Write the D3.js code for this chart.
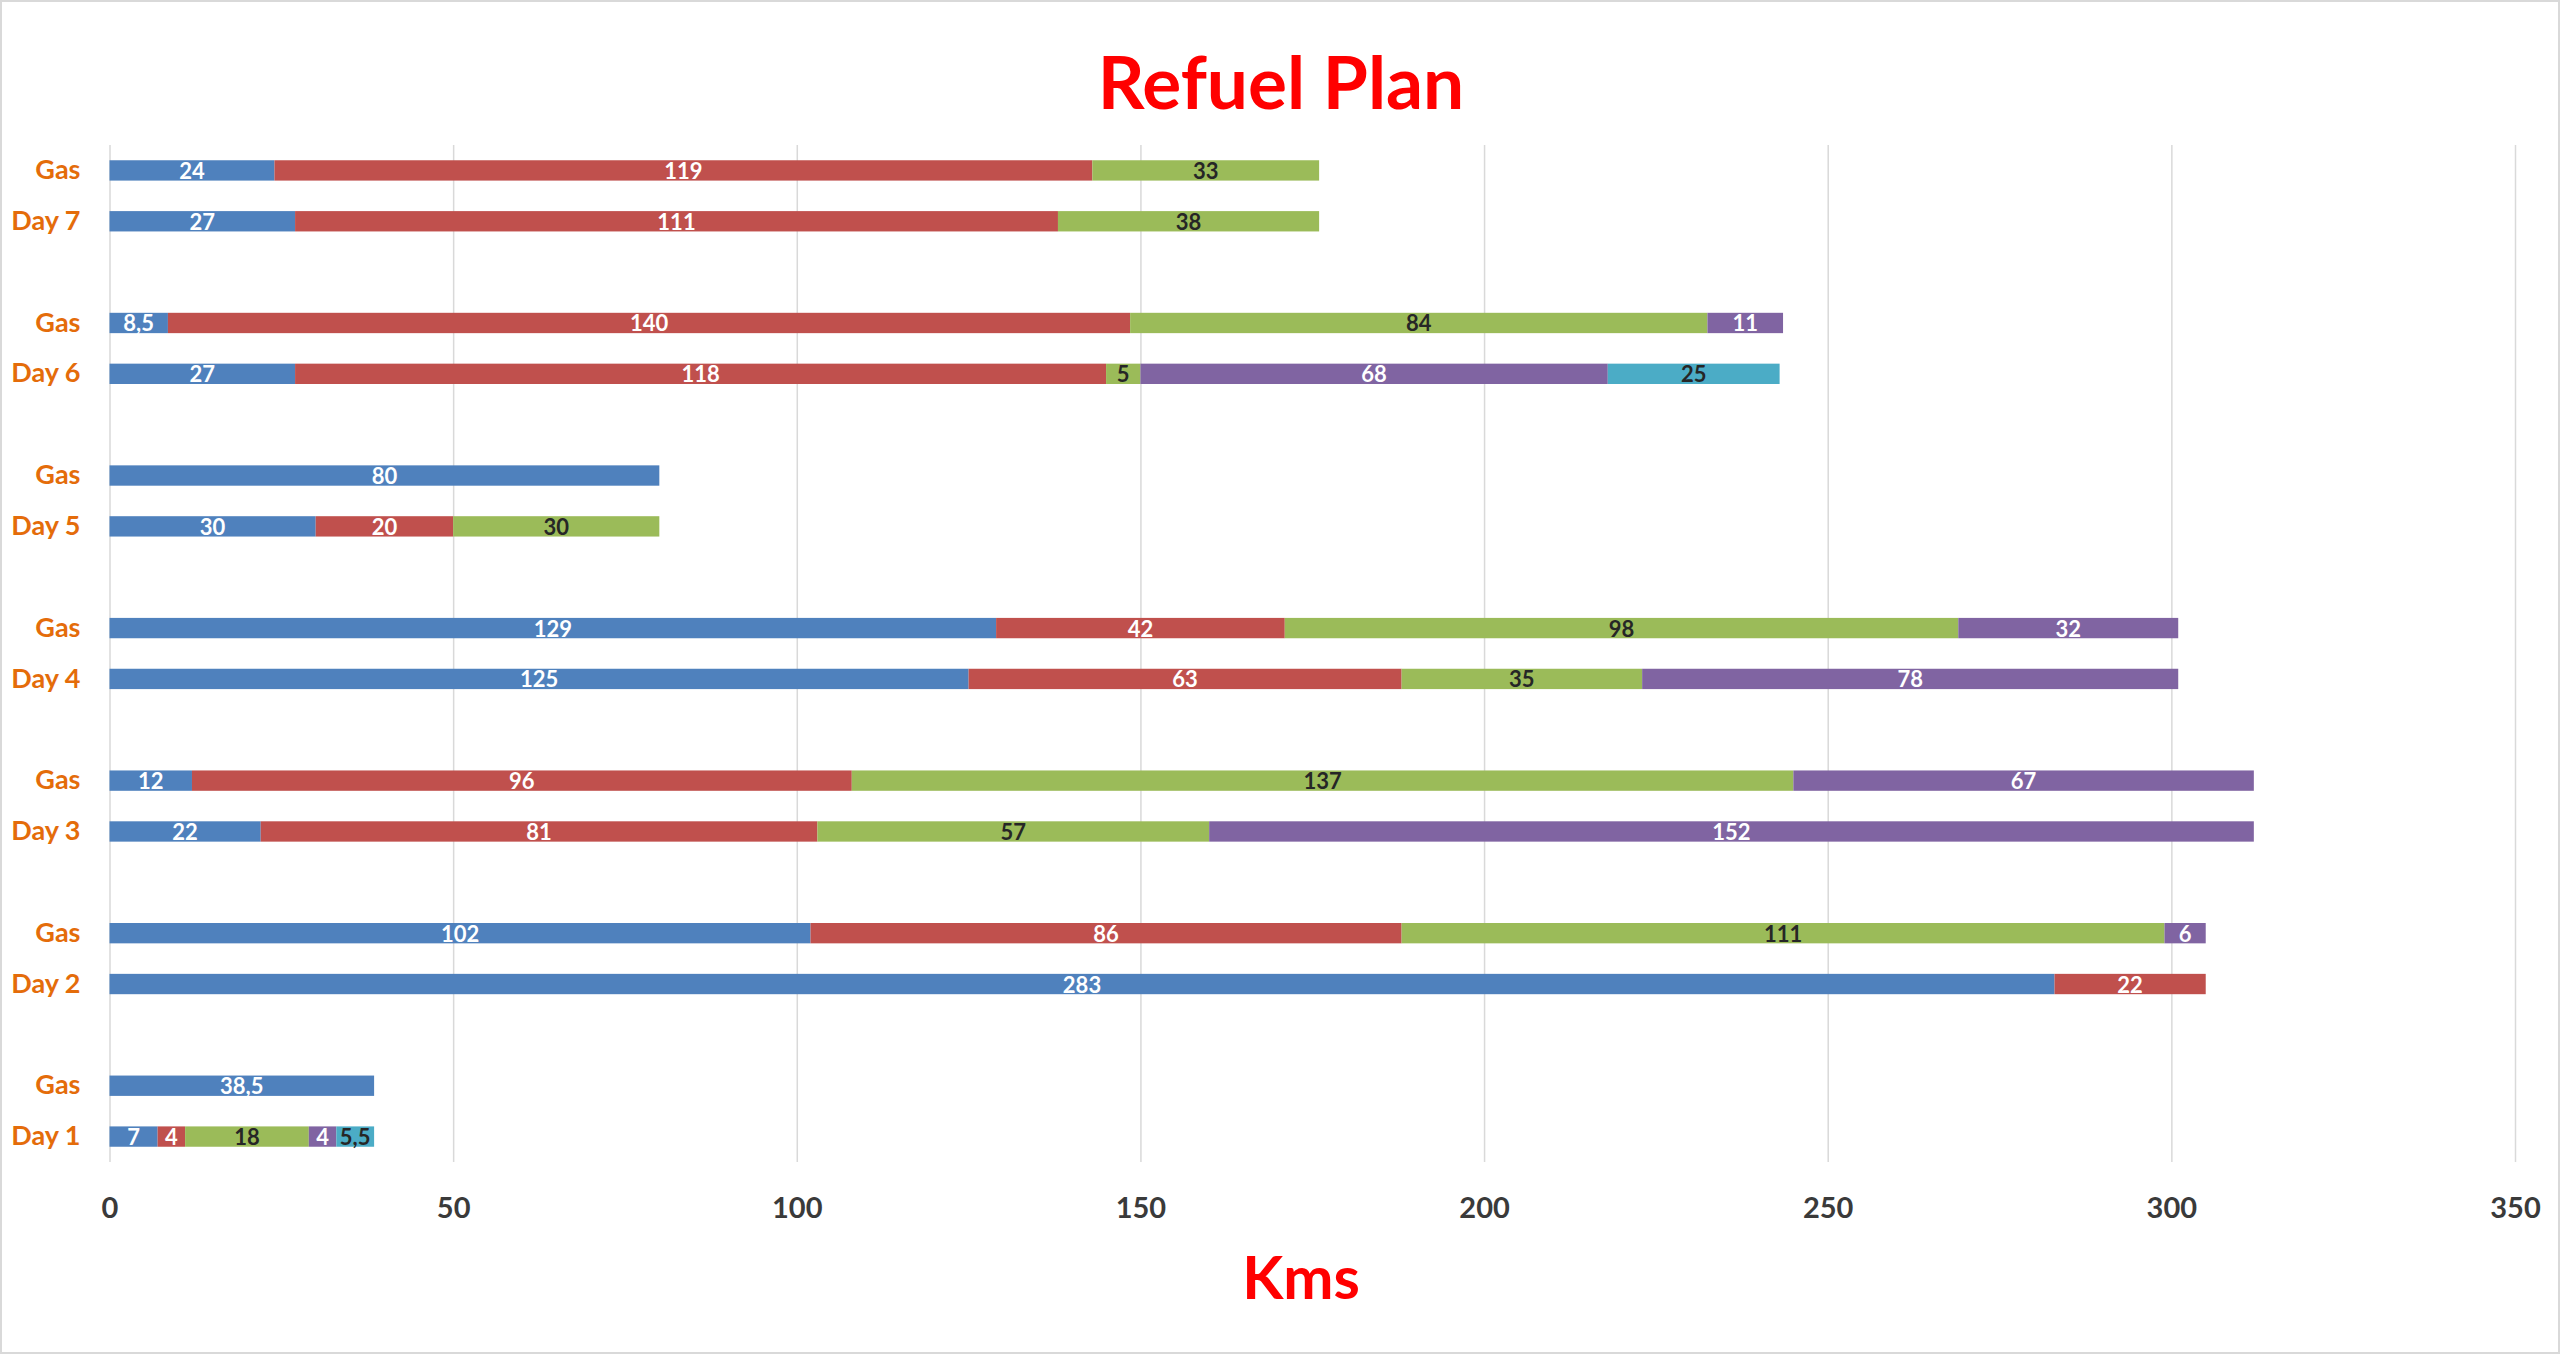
<!DOCTYPE html>
<html>
<head>
<meta charset="utf-8">
<script src="https://cdn.jsdelivr.net/npm/d3@7"></script>
<style>
  html, body { margin: 0; padding: 0; background: #ffffff; }
  svg { display: block; }
</style>
</head>
<body>
<div id="chart"></div>
<script>
// ---- Data (top row first, as displayed) ----
const categories = ["Gas","Day 7","","Gas","Day 6","","Gas","Day 5","","Gas","Day 4","","Gas","Day 3","","Gas","Day 2","","Gas","Day 1"];
const series1 = [24, 27, null, 8.5, 27, null, 80, 30, null, 129, 125, null, 12, 22, null, 102, 283, null, 38.5, 7];
const series2 = [119, 111, null, 140, 118, null, null, 20, null, 42, 63, null, 96, 81, null, 86, 22, null, null, 4];
const series3 = [33, 38, null, 84, 5, null, null, 30, null, 98, 35, null, 137, 57, null, 111, null, null, null, 18];
const series4 = [null, null, null, 11, 68, null, null, null, null, 32, 78, null, 67, 152, null, 6, null, null, null, 4];
const series5 = [null, null, null, null, 25, null, null, null, null, null, null, null, null, null, null, null, null, null, null, 5.5];
const xTicks = [0, 50, 100, 150, 200, 250, 300, 350];
const seriesColors = ["#4F81BD", "#C0504D", "#9BBB59", "#8064A2", "#4BACC6"];
const labelColors = ["#ffffff", "#ffffff", "#262626", "#ffffff", "#262626"];

const W = 2560, H = 1354;
const FONT = "Lato, 'Open Sans', sans-serif";
const plot = { left: 109.5, right: 2515, top: 145, bottom: 1162 };

const svg = d3.select("#chart").append("svg")
  .attr("width", W).attr("height", H)
  .attr("viewBox", `0 0 ${W} ${H}`);

svg.append("rect").attr("x", 1).attr("y", 1).attr("width", W - 2).attr("height", H - 2)
  .attr("fill", "#ffffff").attr("stroke", "#D9D9D9").attr("stroke-width", 2);

const x = d3.scaleLinear().domain([0, 350]).range([plot.left, plot.right]);
const idx = categories.map((d, i) => i);
const y = d3.scaleBand().domain(idx).range([plot.top, plot.bottom])
  .paddingInner(0.6).paddingOuter(0.3);

// gridlines + tick labels
const xAxis = d3.axisBottom(x).tickValues(xTicks)
  .tickSize(-(plot.bottom - plot.top)).tickPadding(35)
  .tickFormat(d3.format("d"));
const gx = svg.append("g").attr("transform", `translate(0,${plot.bottom})`).call(xAxis);
gx.select(".domain").remove();
gx.selectAll(".tick line").attr("stroke", "#D9D9D9").attr("stroke-width", 1.5);
gx.selectAll(".tick text").attr("fill", "#3a3a3a")
  .style("font-family", FONT).style("font-size", "29px").style("font-weight", "bold");

// category axis
const yAxis = d3.axisLeft(y).tickSize(0).tickPadding(29).tickFormat(i => categories[i]);
const gy = svg.append("g").attr("transform", `translate(${plot.left},0)`).call(yAxis);
gy.select(".domain").remove();
gy.selectAll(".tick text").attr("fill", "#E46C0A")
  .style("font-family", FONT).style("font-size", "27px").style("font-weight", "bold");

// stacked bars
const allSeries = [series1, series2, series3, series4, series5];
const rows = idx.map(i => {
  const o = { i };
  allSeries.forEach((s, k) => { o["s" + k] = s[i] == null ? 0 : s[i]; });
  return o;
});
const keys = allSeries.map((s, k) => "s" + k);
const stacked = d3.stack().keys(keys)(rows);
const fmt = v => String(v).replace(".", ",");

const layers = svg.append("g").selectAll("g").data(stacked).join("g")
  .attr("fill", (d, k) => seriesColors[k]);

layers.selectAll("rect")
  .data(d => d.filter(p => p[1] - p[0] > 0))
  .join("rect")
  .attr("x", p => x(p[0]))
  .attr("y", p => y(p.data.i))
  .attr("width", p => x(p[1]) - x(p[0]))
  .attr("height", y.bandwidth());

const lbl = svg.append("g");
stacked.forEach((layer, k) => {
  lbl.selectAll(null).data(layer.filter(p => p[1] - p[0] > 0)).join("text")
    .attr("x", p => (x(p[0]) + x(p[1])) / 2)
    .attr("y", p => y(p.data.i) + y.bandwidth() / 2)
    .attr("text-anchor", "middle")
    .attr("dominant-baseline", "central")
    .attr("fill", labelColors[k])
    .style("font-family", FONT).style("font-size", "22px").style("font-weight", "bold")
    .text(p => fmt(p[1] - p[0]));
});

// title and axis title
svg.append("text").attr("x", 1281).attr("y", 109).attr("text-anchor", "middle")
  .attr("fill", "#FF0000").style("font-family", FONT).style("font-size", "73px").style("font-weight", "bold")
  .text("Refuel Plan");
svg.append("text").attr("x", 1301).attr("y", 1299).attr("text-anchor", "middle")
  .attr("fill", "#FF0000").style("font-family", FONT).style("font-size", "60px").style("font-weight", "bold")
  .text("Kms");
</script>
</body>
</html>
